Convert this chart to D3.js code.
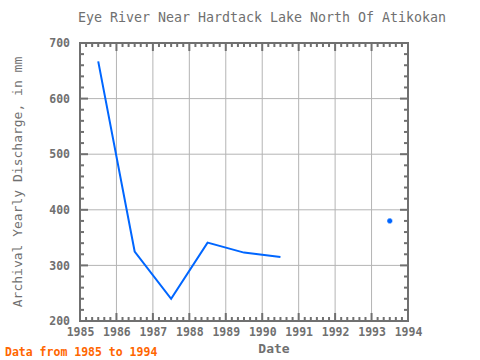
<!DOCTYPE html>
<html><head><meta charset="utf-8">
<script src="https://cdn.jsdelivr.net/npm/d3@7"></script>
<style>body{margin:0;background:#fff}svg{display:block}</style>
</head><body>
<script>
const years = [1985.5, 1986.5, 1987.5, 1988.5, 1989.5, 1990.5, 1991.5, 1992.5, 1993.5];
const values = [667, 325, 240, 341, 323, 315, null, null, 380];
const xTicks = [1985, 1986, 1987, 1988, 1989, 1990, 1991, 1992, 1993, 1994];
const yTicks = [200, 300, 400, 500, 600, 700];
const title = "Eye River Near Hardtack Lake North Of Atikokan";
const yLabel = "Archival Yearly Discharge, in mm";
const xLabel = "Date";
const footer = "Data from 1985 to 1994";

const W = 480, H = 360;
const L = 80, R = 408, T = 43, B = 321;
const font = "'DejaVu Sans Mono', 'Liberation Mono', monospace";
const grey = "#707070";

const svg = d3.select("body").append("svg").attr("width", W).attr("height", H);
const x = d3.scaleLinear().domain([1985, 1994]).range([L, R]);
const y = d3.scaleLinear().domain([200, 700]).range([B, T]);

// grid
svg.append("g").selectAll("line").data(xTicks.slice(1, -1)).join("line")
  .attr("x1", d => x(d)).attr("x2", d => x(d)).attr("y1", T).attr("y2", B)
  .attr("stroke", "#b4b4b4").attr("stroke-width", 1);
svg.append("g").selectAll("line").data(yTicks.slice(1, -1)).join("line")
  .attr("y1", d => y(d)).attr("y2", d => y(d)).attr("x1", L).attr("x2", R)
  .attr("stroke", "#b4b4b4").attr("stroke-width", 1);

// minor/major ticks inside frame
const xMinor = d3.range(1985, 1994.001, 1/6).map(v => Math.round(v * 6) / 6);
const yMinor = d3.range(200, 701, 20);
const tg = svg.append("g").attr("stroke", grey).attr("stroke-width", 2);
xMinor.forEach(v => {
  const major = Math.abs(v - Math.round(v)) < 1e-6;
  const len = major ? 8 : 4;
  tg.append("line").attr("x1", x(v)).attr("x2", x(v)).attr("y1", B).attr("y2", B - len);
  tg.append("line").attr("x1", x(v)).attr("x2", x(v)).attr("y1", T).attr("y2", T + len);
});
yMinor.forEach(v => {
  const major = v % 100 === 0;
  const len = major ? 8 : 4;
  tg.append("line").attr("y1", y(v)).attr("y2", y(v)).attr("x1", L).attr("x2", L + len);
  tg.append("line").attr("y1", y(v)).attr("y2", y(v)).attr("x1", R).attr("x2", R - len);
});

// frame
svg.append("rect").attr("x", L).attr("y", T).attr("width", R - L).attr("height", B - T)
  .attr("fill", "none").attr("stroke", grey).attr("stroke-width", 2);

// axes labels via d3 axes
const xAxis = svg.append("g").attr("transform", `translate(0,${B})`)
  .call(d3.axisBottom(x).tickValues(xTicks).tickFormat(d3.format("d")).tickSize(0).tickPadding(7));
xAxis.select(".domain").remove();
xAxis.selectAll("text").attr("font-family", font).attr("font-size", 11.5).attr("font-weight", "bold").attr("fill", grey);

const yAxis = svg.append("g").attr("transform", `translate(${L},0)`)
  .call(d3.axisLeft(y).tickValues(yTicks).tickSize(0).tickPadding(10));
yAxis.select(".domain").remove();
yAxis.selectAll("text").attr("font-family", font).attr("font-size", 11.5).attr("font-weight", "bold").attr("fill", grey);

// data line
const pts = years.map((yr, i) => ({yr, v: values[i]}));
const line = d3.line().defined(d => d.v != null).x(d => x(d.yr)).y(d => y(d.v));
svg.append("path").datum(pts).attr("d", line).attr("fill", "none")
  .attr("stroke", "#0066ff").attr("stroke-width", 2);
// isolated points
pts.forEach((d, i) => {
  if (d.v == null) return;
  const prev = i > 0 ? pts[i - 1].v : null, next = i < pts.length - 1 ? pts[i + 1].v : null;
  if (prev == null && next == null) {
    const g = svg.append("g").attr("fill", "#0066ff");
    g.append("rect").attr("x", x(d.yr) - 2.5).attr("y", y(d.v) - 1.5).attr("width", 5).attr("height", 3);
    g.append("rect").attr("x", x(d.yr) - 1.5).attr("y", y(d.v) - 2.5).attr("width", 3).attr("height", 5);
  }
});

// texts
svg.append("text").attr("x", 262).attr("y", 22).attr("text-anchor", "middle")
  .attr("font-family", font).attr("font-size", 13.3).attr("fill", grey).text(title);
svg.append("text").attr("transform", `translate(22,182) rotate(-90)`).attr("text-anchor", "middle")
  .attr("font-family", font).attr("font-size", 13).attr("fill", grey).text(yLabel);
svg.append("text").attr("x", 274).attr("y", 353).attr("text-anchor", "middle")
  .attr("font-family", font).attr("font-size", 13).attr("font-weight", "bold").attr("fill", grey).text(xLabel);
svg.append("text").attr("x", 5).attr("y", 356)
  .attr("font-family", font).attr("font-size", 11.5).attr("font-weight", "bold").attr("fill", "#ff6600").text(footer);
</script>
</body></html>
